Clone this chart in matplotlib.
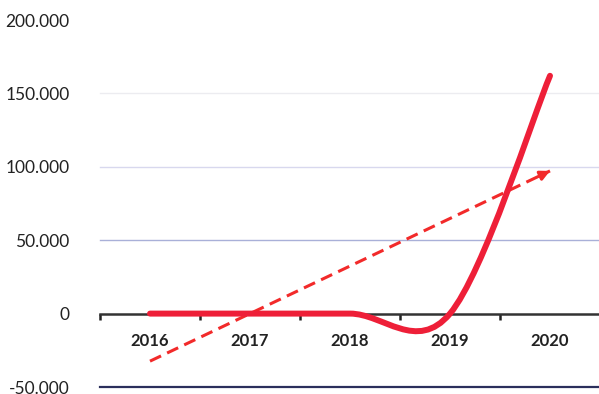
import matplotlib.pyplot as plt
import numpy as np
from matplotlib.path import Path
from matplotlib.patches import PathPatch
from matplotlib.ticker import FuncFormatter

years = ["2016", "2017", "2018", "2019", "2020"]
values = [0, 0, 0, 0, 162000]
yTicks = [-50000, 0, 50000, 100000, 150000, 200000]
gridColors = {-50000: "#2b2f5c", 50000: "#a9b0d8", 100000: "#d8d8ee", 150000: "#ececf0"}

def smoothPath(xs, ys):
    # excel-like smoothed line: bezier segments with catmull-rom control points
    pts = np.column_stack([xs, ys]).astype(float)
    n = len(pts)
    verts = [pts[0]]
    codes = [Path.MOVETO]
    for i in range(n - 1):
        p0 = pts[max(i - 1, 0)]
        p1 = pts[i]
        p2 = pts[i + 1]
        p3 = pts[min(i + 2, n - 1)]
        c1 = p1 + (p2 - p0) / 6
        c2 = p2 - (p3 - p1) / 6
        verts += [c1, c2, p2]
        codes += [Path.CURVE4] * 3
    return Path(verts, codes)

def yFmt(v, pos):
    return f"{int(v):,}".replace(",", ".")

plt.rcParams['font.family'] = ['Lato', 'DejaVu Sans']

fig = plt.figure(figsize=(5.99, 3.94), dpi=100)
ax = fig.add_axes([100/599, 7/394, 500/599, 367/394])

x = np.arange(len(years))
ax.set_xlim(-0.5, len(years) - 0.5)
ax.set_ylim(-50000, 200000)

for val, col in gridColors.items():
    ax.axhline(val, color=col, lw=1.6 if val < 0 else 1.0, zorder=1, clip_on=False)

# smoothed data line
patch = PathPatch(smoothPath(x, values), facecolor="none", edgecolor="#ee1f38",
                  lw=4.3, capstyle="round", joinstyle="round", zorder=4)
ax.add_patch(patch)

# linear trend with arrow head
slope, icpt = np.polyfit(x, values, 1)
trendY = slope * x + icpt
ax.plot([x[0], x[-1]], [trendY[0], trendY[-1]], color="#f22a2a", lw=2.2,
        ls=(0, (4, 2.2)), zorder=3)
ax.annotate("", xy=(x[-1], trendY[-1]),
            xytext=(x[-1] - 0.12, trendY[-1] - slope * 0.12),
            arrowprops=dict(arrowstyle="-|>", color="#f22a2a", lw=2.2,
                            mutation_scale=14, shrinkA=0, shrinkB=0), zorder=3)

for s in ["top", "right", "left"]:
    ax.spines[s].set_visible(False)
ax.spines["bottom"].set_position(("data", 0))
ax.spines["bottom"].set_color("#333333")
ax.spines["bottom"].set_linewidth(1.8)
ax.spines["bottom"].set_zorder(2)

ax.set_xticks(x)
ax.set_xticklabels(years, fontsize=12, fontweight="bold", color="#222222")
ax.set_xticks(np.arange(-0.5, len(years)), minor=True)
ax.tick_params(axis="x", which="major", length=0, pad=14)
ax.tick_params(axis="x", which="minor", length=4, width=1.8, color="#222222", direction="out")

ax.set_yticks(yTicks)
ax.yaxis.set_major_formatter(FuncFormatter(yFmt))
ax.tick_params(axis="y", length=0, pad=22, labelsize=12.5, labelcolor="#222222")

fig.savefig("out.png", dpi=100)
